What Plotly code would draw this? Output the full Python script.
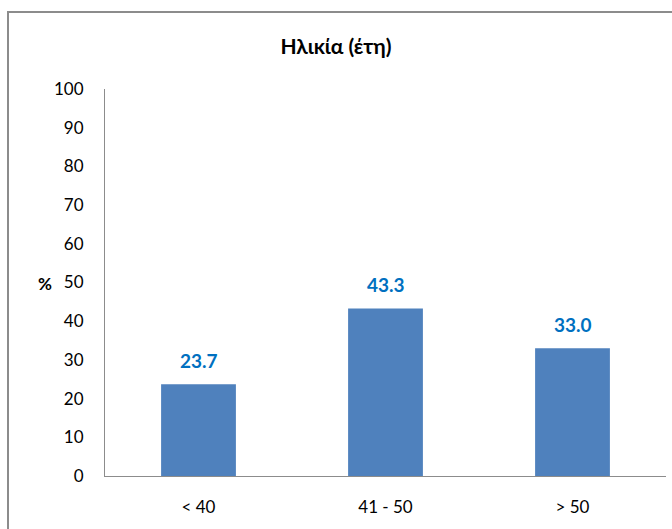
import plotly.graph_objects as go

categories = ["< 40", "41 - 50", "> 50"]
values = [23.7, 43.3, 33.0]
y_ticks = [0, 10, 20, 30, 40, 50, 60, 70, 80, 90, 100]

FONT = "Lato, Liberation Sans, sans-serif"

fig = go.Figure(go.Bar(
    x=categories, y=values, width=0.4,
    marker=dict(color="#4F81BD", line=dict(width=0)),
    hoverinfo="skip",
))

L, R, T, B = 105, 6, 89, 53
W, H = 672, 529
pw, ph = W - L - R, H - T - B

annotations = [dict(text="<b>%</b>", x=(36 - L) / pw, y=(476 - 283) / ph,
                    xref="paper", yref="paper", showarrow=False,
                    font=dict(family=FONT, size=17, color="black"))]
for c, v in zip(categories, values):
    annotations.append(dict(x=c, y=v, xref="x", yref="y", text=f"<b>{v:.1f}</b>",
                            showarrow=False, yanchor="bottom", yshift=10,
                            font=dict(family=FONT, size=19, color="#0070C0")))

fig.update_layout(
    width=W, height=H,
    margin=dict(l=L, r=R, t=T, b=B),
    plot_bgcolor="white", paper_bgcolor="white",
    showlegend=False,
    title=dict(text="<b>Ηλικία (έτη)</b>", x=0.5, xanchor="center",
               y=1 - 47 / H, yanchor="middle",
               font=dict(family=FONT, size=21, color="black")),
    xaxis=dict(showgrid=False, showline=True, linecolor="#8C8C8C", linewidth=1,
               ticks="", ticklabelstandoff=16,
               tickfont=dict(family=FONT, size=17, color="black")),
    yaxis=dict(range=[0, 100], tickvals=y_ticks, showgrid=False, zeroline=False,
               showline=True, linecolor="#8C8C8C", linewidth=1,
               ticks="", ticklabelstandoff=17,
               tickfont=dict(family=FONT, size=17, color="black")),
    annotations=annotations,
    shapes=[dict(type="rect", xref="paper", yref="paper",
                 x0=(8 - L) / pw, x1=(690 - L) / pw,
                 y0=(476 - 560) / ph, y1=(476 - 12) / ph,
                 line=dict(color="#8C8C8C", width=2), fillcolor="rgba(0,0,0,0)",
                 layer="below")],
    bargap=0.6,
)

fig.write_html("out.html")
